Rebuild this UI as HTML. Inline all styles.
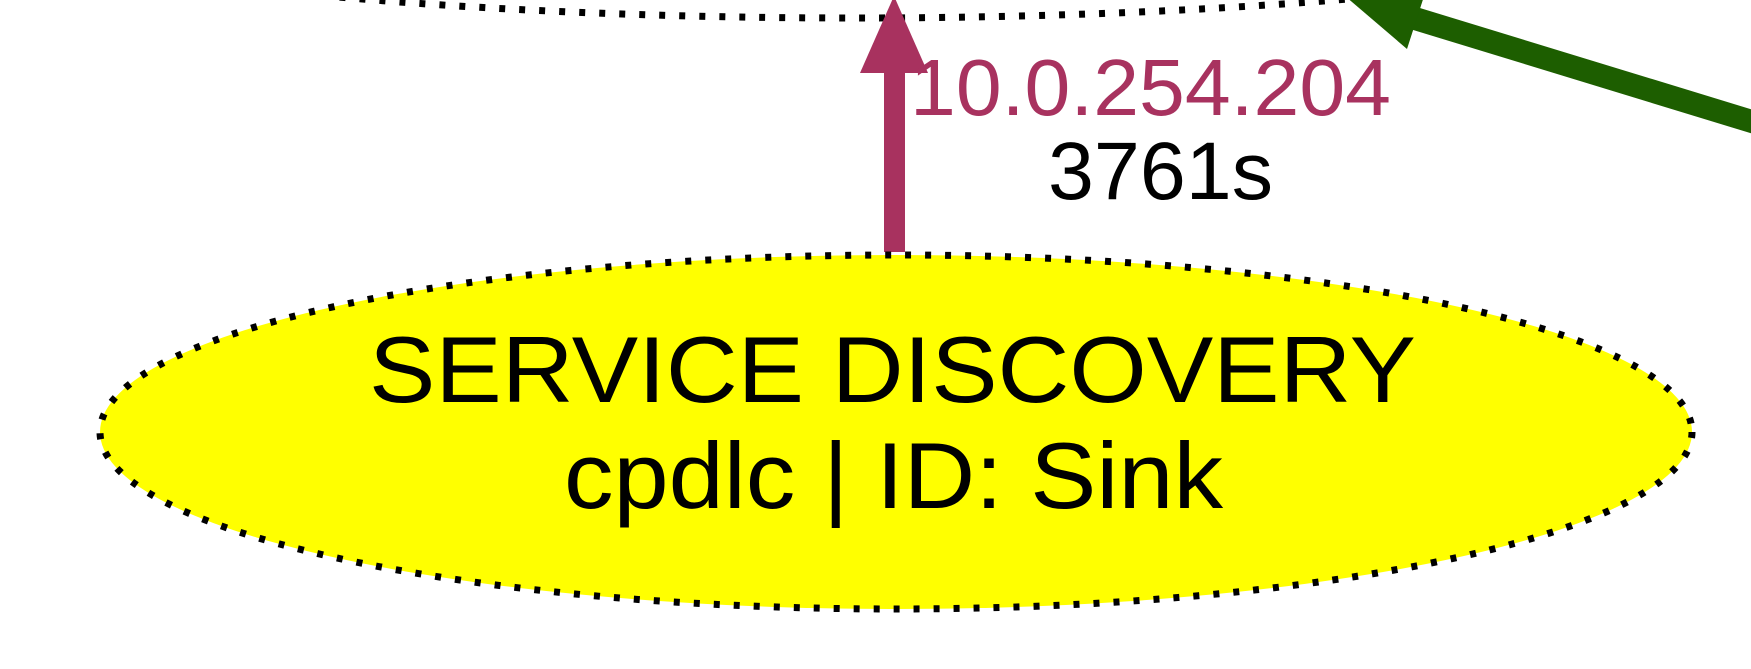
<!DOCTYPE html>
<html><head><meta charset="utf-8"><style>html,body{margin:0;padding:0;background:#fff;}svg{display:block;}</style></head>
<body>
<svg width="1751" height="669" viewBox="0 0 1751 669" xmlns="http://www.w3.org/2000/svg">
  <ellipse cx="855" cy="-128" rx="1000" ry="146" fill="none" stroke="#000" stroke-width="7" stroke-dasharray="6 14"/>
  <g>
    <line x1="1760" y1="124" x2="1410" y2="17" stroke="#1d5e00" stroke-width="23"/>
    <polygon points="1345,-4 1407,49 1427,-13" fill="#1d5e00"/>
  </g>
  <g>
    <rect x="884" y="70" width="21" height="182" fill="#a8325f"/>
    <polygon points="894,-4 860,73 928,73" fill="#a8325f"/>
  </g>
  <text x="910" y="115" font-family="'Liberation Sans',sans-serif" font-size="80" fill="#a8325f" textLength="481" lengthAdjust="spacingAndGlyphs">10.0.254.204</text>
  <text x="1048" y="199" font-family="'Liberation Sans',sans-serif" font-size="82" fill="#000" textLength="225" lengthAdjust="spacingAndGlyphs">3761s</text>
  <g>
    <ellipse cx="896" cy="432" rx="796" ry="177" fill="#ffff00" stroke="#000" stroke-width="7" stroke-dasharray="6 14"/>
    <text x="369" y="402" font-family="'Liberation Sans',sans-serif" font-size="94" fill="#000" textLength="1047" lengthAdjust="spacingAndGlyphs">SERVICE DISCOVERY</text>
    <text x="564" y="508" font-family="'Liberation Sans',sans-serif" font-size="94" fill="#000" textLength="659" lengthAdjust="spacingAndGlyphs">cpdlc | ID: Sink</text>
  </g>
</svg>
</body></html>
